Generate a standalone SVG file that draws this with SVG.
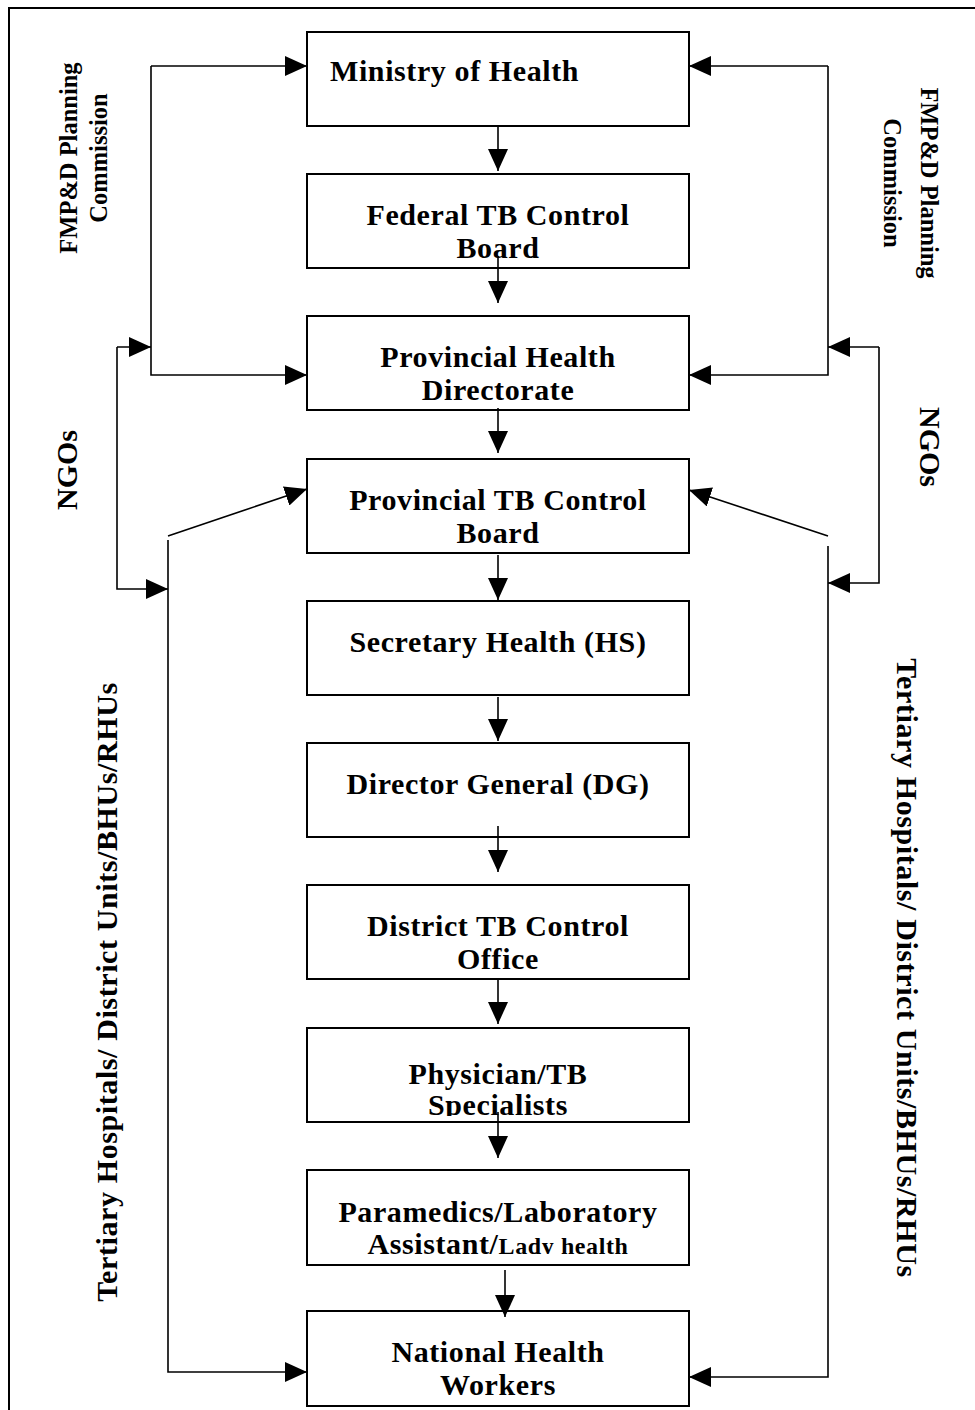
<svg xmlns="http://www.w3.org/2000/svg" width="975" height="1410" viewBox="0 0 975 1410">
<style>
.box{fill:#fff;stroke:#000;stroke-width:2}
.t{font-family:"Liberation Serif","Times New Roman",serif;font-weight:bold;font-size:30px;fill:#000;text-anchor:middle;letter-spacing:0.6px}
.side{font-family:"Liberation Serif","Times New Roman",serif;font-weight:bold;fill:#000;text-anchor:middle}
.c{fill:none;stroke:#000;stroke-width:1.6}
</style>
<defs>
<marker id="ah" markerUnits="userSpaceOnUse" markerWidth="22" markerHeight="20" refX="22" refY="10" orient="auto" viewBox="0 0 22 20">
<path d="M0,0 L22,10 L0,20 z" fill="#000"/>
</marker>
<clipPath id="clipPhys"><rect x="307" y="1028" width="382" height="88"/></clipPath>
<clipPath id="clipPara"><rect x="307" y="1170" width="382" height="84"/></clipPath>
</defs>
<rect x="9" y="8" width="980" height="1420" fill="#fff" stroke="#000" stroke-width="2"/>

<g id="labels">
<text class="side" font-size="24.5" transform="translate(77,158) rotate(-90)"><tspan x="0" y="0">FMP&amp;D Planning</tspan><tspan x="0" y="30">Commission</tspan></text>
<text class="side" font-size="24.5" transform="translate(921,183) rotate(90)"><tspan x="0" y="0">FMP&amp;D Planning</tspan><tspan x="0" y="37">Commission</tspan></text>
<text class="side" font-size="30" transform="translate(77,470) rotate(-90)">NGOs</text>
<text class="side" font-size="30" transform="translate(920,447) rotate(90)">NGOs</text>
<text class="side" font-size="30" letter-spacing="0.6" transform="translate(117,992) rotate(-90)">Tertiary Hospitals/ District Units/BHUs/RHUs</text>
<text class="side" font-size="30" letter-spacing="0.6" transform="translate(897,968) rotate(90)">Tertiary Hospitals/ District Units/BHUs/RHUs</text>
</g>

<g id="n1"><rect class="box" x="307" y="32" width="382" height="94"/><text class="t" x="330" y="81" style="text-anchor:start">Ministry of Health</text></g>
<g id="n2"><rect class="box" x="307" y="174" width="382" height="94"/><text class="t" x="498" y="225">Federal TB Control</text><text class="t" x="498" y="258">Board</text></g>
<g id="n3"><rect class="box" x="307" y="316" width="382" height="94"/><text class="t" x="498" y="367">Provincial Health</text><text class="t" x="498" y="400">Directorate</text></g>
<g id="n4"><rect class="box" x="307" y="459" width="382" height="94"/><text class="t" x="498" y="510">Provincial TB Control</text><text class="t" x="498" y="543">Board</text></g>
<g id="n5"><rect class="box" x="307" y="601" width="382" height="94"/><text class="t" x="498" y="652">Secretary Health (HS)</text></g>
<g id="n6"><rect class="box" x="307" y="743" width="382" height="94"/><text class="t" x="498" y="794">Director General (DG)</text></g>
<g id="n7"><rect class="box" x="307" y="885" width="382" height="94"/><text class="t" x="498" y="936">District TB Control</text><text class="t" x="498" y="969">Office</text></g>
<g id="n8"><rect class="box" x="307" y="1028" width="382" height="94"/><g clip-path="url(#clipPhys)"><text class="t" x="498" y="1084">Physician/TB</text><text class="t" x="498" y="1115">Specialists</text></g></g>
<g id="n9"><rect class="box" x="307" y="1170" width="382" height="95"/><g clip-path="url(#clipPara)"><text class="t" x="498" y="1222">Paramedics/Laboratory</text><text class="t" x="498" y="1254">Assistant/<tspan font-size="24">Lady health</tspan></text></g></g>
<g id="n10"><rect class="box" x="307" y="1311" width="382" height="95"/><text class="t" x="498" y="1362">National Health</text><text class="t" x="498" y="1395">Workers</text></g>

<g id="connectors">
<path class="c" d="M498,126 V171" marker-end="url(#ah)"/>
<path class="c" d="M498,256 V303" marker-end="url(#ah)"/>
<path class="c" d="M498,408 V453" marker-end="url(#ah)"/>
<path class="c" d="M498,555 V600" marker-end="url(#ah)"/>
<path class="c" d="M498,697 V741" marker-end="url(#ah)"/>
<path class="c" d="M498,826 V872" marker-end="url(#ah)"/>
<path class="c" d="M498,980 V1024" marker-end="url(#ah)"/>
<path class="c" d="M498,1112 V1158" marker-end="url(#ah)"/>
<path class="c" d="M505,1270 V1317" marker-end="url(#ah)"/>

<path class="c" d="M151,66 H307" marker-end="url(#ah)"/>
<path class="c" d="M151,66 V375 H307" marker-end="url(#ah)"/>
<path class="c" d="M117,347 H151" marker-end="url(#ah)"/>
<path class="c" d="M117,347 V589 H168" marker-end="url(#ah)"/>
<path class="c" d="M168,540 V1372 H307" marker-end="url(#ah)"/>
<path class="c" d="M168,536 L307,489" marker-end="url(#ah)"/>

<path class="c" d="M828,66 H689" marker-end="url(#ah)"/>
<path class="c" d="M828,66 V375 H689" marker-end="url(#ah)"/>
<path class="c" d="M879,347 H828" marker-end="url(#ah)"/>
<path class="c" d="M879,347 V583 H828" marker-end="url(#ah)"/>
<path class="c" d="M828,546 V1377 H689" marker-end="url(#ah)"/>
<path class="c" d="M828,536 L689,490" marker-end="url(#ah)"/>
</g>
</svg>
